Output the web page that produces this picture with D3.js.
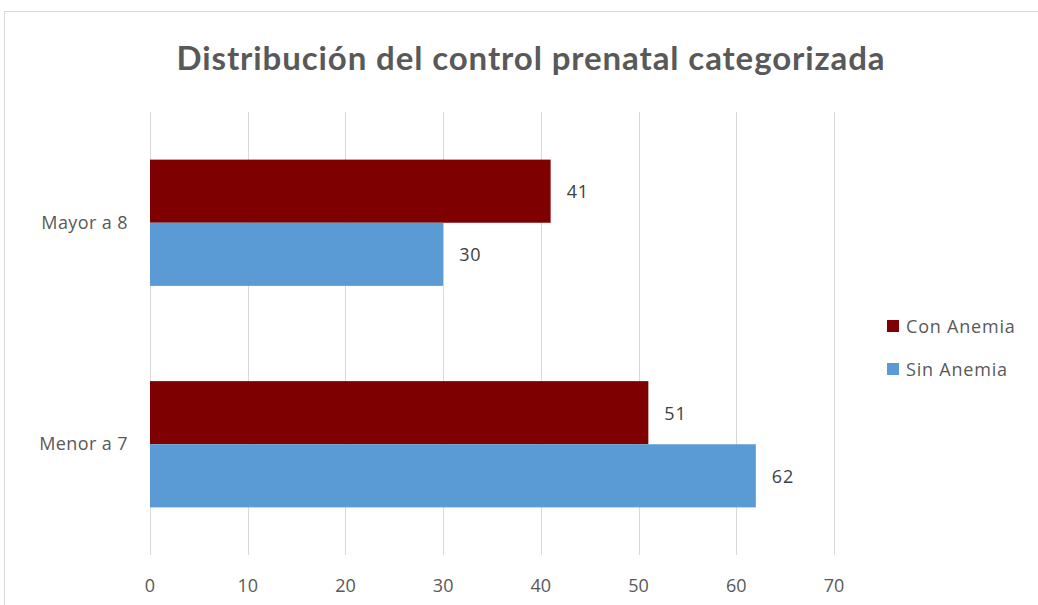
<!DOCTYPE html>
<html>
<head>
<meta charset="utf-8">
<script src="https://cdn.jsdelivr.net/npm/d3@7"></script>
<style>
  body { margin: 0; background: #fff; }
  svg { display: block; font-family: "Open Sans", "Lato", sans-serif; }
</style>
</head>
<body>
<div id="chart"></div>
<script>
// data
const categories = ["Mayor a 8", "Menor a 7"];
const seriesNames = ["Con Anemia", "Sin Anemia"];
const conAnemia = [41, 51];
const sinAnemia = [30, 62];
const xTicks = [0, 10, 20, 30, 40, 50, 60, 70];
const colors = ["#7f0000", "#5b9bd5"];

const width = 1038, height = 605;
const margin = { top: 112, right: 204, bottom: 50, left: 150 };
const labelFont = 18;

const svg = d3.select("#chart").append("svg")
    .attr("width", width)
    .attr("height", height);

// chart frame (only top/left edges are visible in the picture)
svg.append("rect")
    .attr("x", 4.5).attr("y", 11.5)
    .attr("width", 1100).attr("height", 700)
    .attr("fill", "none")
    .attr("stroke", "#d9d9d9");

const x = d3.scaleLinear()
    .domain([0, 70])
    .range([margin.left, width - margin.right]);

const y = d3.scaleBand()
    .domain(categories)
    .range([margin.top, height - margin.bottom])
    .paddingInner(0.43)
    .paddingOuter(0.215);

const ySub = d3.scaleBand()
    .domain(seriesNames)
    .range([0, y.bandwidth()]);

// vertical gridlines
svg.append("g")
    .selectAll("line")
    .data(xTicks)
    .join("line")
    .attr("x1", d => Math.round(x(d)) + 0.5)
    .attr("x2", d => Math.round(x(d)) + 0.5)
    .attr("y1", margin.top)
    .attr("y2", height - margin.bottom)
    .attr("stroke", "#d9d9d9")
    .attr("stroke-width", 1);

// x tick labels
svg.append("g")
    .selectAll("text")
    .data(xTicks)
    .join("text")
    .attr("x", d => x(d))
    .attr("y", 585)
    .attr("text-anchor", "middle")
    .attr("dominant-baseline", "central")
    .attr("font-size", labelFont)
    .attr("fill", "#595959")
    .text(d => d);

// category labels
svg.append("g")
    .selectAll("text")
    .data(categories)
    .join("text")
    .attr("x", 128)
    .attr("y", d => y(d) + y.bandwidth() / 2 - 1)
    .attr("text-anchor", "end")
    .attr("dominant-baseline", "central")
    .attr("font-size", labelFont)
    .attr("letter-spacing", 0.4)
    .attr("fill", "#595959")
    .text(d => d);

const rows = categories.map((c, i) => ({
    cat: c,
    values: [
        { s: seriesNames[0], v: conAnemia[i], color: colors[0] },
        { s: seriesNames[1], v: sinAnemia[i], color: colors[1] }
    ]
}));

const groups = svg.append("g")
    .selectAll("g")
    .data(rows)
    .join("g")
    .attr("transform", d => `translate(0,${y(d.cat)})`);

groups.selectAll("rect")
    .data(d => d.values)
    .join("rect")
    .attr("x", x(0))
    .attr("y", d => ySub(d.s))
    .attr("width", d => x(d.v) - x(0))
    .attr("height", ySub.bandwidth())
    .attr("fill", d => d.color);

groups.selectAll("text")
    .data(d => d.values)
    .join("text")
    .attr("x", d => x(d.v) + 16)
    .attr("y", d => ySub(d.s) + ySub.bandwidth() / 2)
    .attr("dominant-baseline", "central")
    .attr("font-size", labelFont)
    .attr("letter-spacing", 0.8)
    .attr("fill", "#404040")
    .text(d => d.v);

// title
svg.append("text")
    .attr("x", 531)
    .attr("y", 57)
    .attr("text-anchor", "middle")
    .attr("dominant-baseline", "central")
    .attr("font-family", "Lato, sans-serif")
    .attr("font-size", 33)
    .attr("font-weight", "bold")
    .attr("letter-spacing", 0.9)
    .attr("fill", "#595959")
    .text("Distribución del control prenatal categorizada");

// legend
const legend = svg.append("g")
    .selectAll("g")
    .data(seriesNames)
    .join("g")
    .attr("transform", (d, i) => `translate(887,${326 + i * 43})`);

legend.append("rect")
    .attr("x", 0).attr("y", -6)
    .attr("width", 12).attr("height", 12)
    .attr("fill", (d, i) => colors[i]);

legend.append("text")
    .attr("x", 19)
    .attr("y", 0)
    .attr("dominant-baseline", "central")
    .attr("font-size", labelFont)
    .attr("letter-spacing", 0.8)
    .attr("fill", "#595959")
    .text(d => d);
</script>
</body>
</html>
